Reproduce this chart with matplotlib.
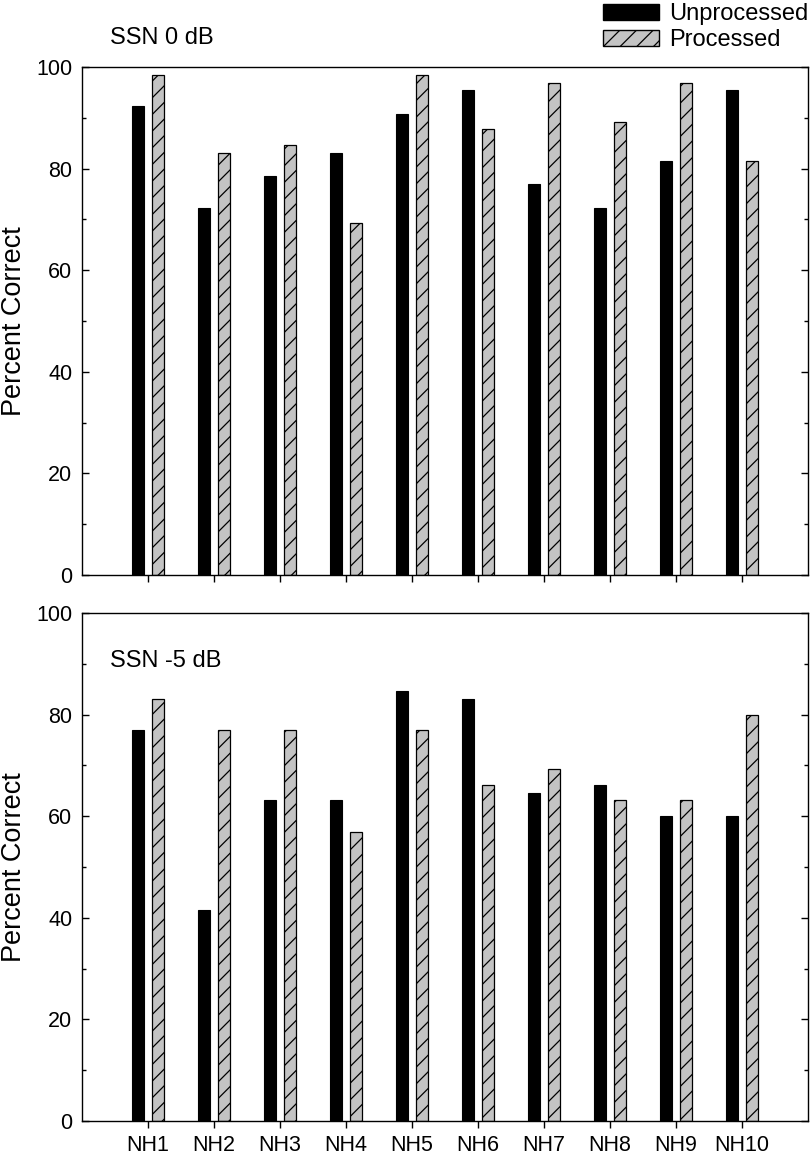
import matplotlib
matplotlib.use("Agg")
import matplotlib.pyplot as plt
from matplotlib.patches import Patch
from matplotlib.ticker import MultipleLocator
import numpy as np

plt.rcParams['font.family'] = ['Liberation Sans', 'DejaVu Sans']
plt.rcParams['hatch.linewidth'] = 0.9

subjects = ["NH1", "NH2", "NH3", "NH4", "NH5", "NH6", "NH7", "NH8", "NH9", "NH10"]
unproc_0dB = [92.3, 72.3, 78.5, 83.1, 90.8, 95.4, 76.9, 72.3, 81.5, 95.4]
proc_0dB = [98.5, 83.1, 84.6, 69.2, 98.5, 87.7, 96.9, 89.2, 96.9, 81.5]
unproc_m5dB = [76.9, 41.5, 63.1, 63.1, 84.6, 83.1, 64.6, 66.2, 60.0, 60.0]
proc_m5dB = [83.1, 76.9, 76.9, 56.9, 76.9, 66.2, 69.2, 63.1, 63.1, 80.0]

fig = plt.figure(figsize=(8.1, 11.62), dpi=100)
W, H = 810, 1162
ax1 = fig.add_axes([82 / W, 1 - 575 / H, 726 / W, 508 / H])
ax2 = fig.add_axes([82 / W, 1 - 1121 / H, 726 / W, 508 / H])

x = np.arange(1, len(subjects) + 1)
bw = 0.18
off = 0.15
grey = "#c3c3c3"

for ax, u, p in [(ax1, unproc_0dB, proc_0dB), (ax2, unproc_m5dB, proc_m5dB)]:
    ax.bar(x - off, u, width=bw, color="black", edgecolor="black", linewidth=0.8)
    ax.bar(x + off, p, width=bw, color=grey, edgecolor="black", linewidth=0.9, hatch="//")
    ax.set_xlim(0, 11)
    ax.set_ylim(0, 100)
    ax.set_xticks(x)
    ax.yaxis.set_major_locator(MultipleLocator(20))
    ax.yaxis.set_minor_locator(MultipleLocator(10))
    ax.tick_params(axis='y', which='both', direction='in', left=True, right=True, labelsize=15.5, pad=7)
    ax.tick_params(axis='y', which='major', length=5, width=1)
    ax.tick_params(axis='y', which='minor', length=3, width=1)
    ax.tick_params(axis='x', which='both', direction='out', top=False, length=5, width=1, labelsize=15.5, pad=5)
    ax.set_ylabel("Percent Correct", fontsize=19.5)
    ax.yaxis.label.set_va("center")
    ax.yaxis.set_label_coords((14 - 82) / 726, 0.5)
    for s in ax.spines.values():
        s.set_linewidth(1.0)

ax1.set_xticklabels([])
ax2.set_xticklabels(subjects)

fig.text(110 / W, 1 - 38 / H, "SSN 0 dB", fontsize=17, va="center", ha="left")
fig.text(110 / W, 1 - 661 / H, "SSN -5 dB", fontsize=17, va="center", ha="left")

handles = [Patch(facecolor="black", edgecolor="black", label="Unprocessed"),
           Patch(facecolor=grey, edgecolor="black", hatch="//", label="Processed")]
fig.legend(handles=handles, loc="upper right", bbox_to_anchor=(808 / W, 1 - 3 / H), frameon=False,
           fontsize=17, handlelength=2.4, handleheight=0.65, handletextpad=0.4,
           labelspacing=0.19, borderaxespad=0.0, borderpad=0.0)

fig.savefig("out.png", dpi=100)
